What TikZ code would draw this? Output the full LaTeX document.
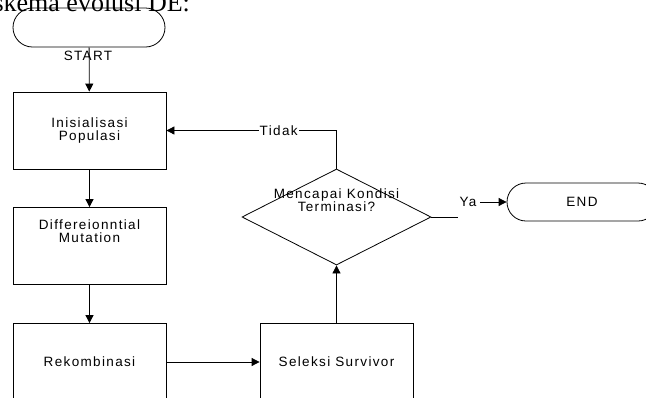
\documentclass[tikz,border=0pt]{standalone}
\usepackage{fontspec}
\setmainfont{Liberation Serif}
\newfontfamily\visiofont[LetterSpace=10]{Liberation Sans}
\usetikzlibrary{arrows.meta,%
                shapes.geometric,%
                shapes.misc}

\begin{document}
\begin{tikzpicture}[x=1pt,y=-1pt,font=\visiofont\fontsize{13.5}{13}\selectfont]
  \useasboundingbox (0,0) rectangle (646,397);
  \tikzstyle{BoxStyle}=[draw,line width=0.8pt,inner sep=0pt,minimum width=153pt,minimum height=77pt,align=center]
  \tikzstyle{TermStyle}=[draw,line width=0.8pt,rounded rectangle,inner sep=0pt,minimum width=152pt,minimum height=39pt]
  \tikzstyle{LabelStyle}=[fill=white,inner sep=1pt]
  \tikzstyle{EdgeStyle}=[line width=0.8pt,-{Triangle[length=8pt,width=8pt]}]
  \node[anchor=base west,font=\rmfamily\fontsize{26}{26}\selectfont] (judul) at (-10,11) {skema evolusi DE:};
  \node[TermStyle] (start) at (89,27.5) {};
  \node (startlbl) at (88,56) {START};
  \node[BoxStyle] (init) at (89.5,130.5) {Inisialisasi\\Populasi};
  \node[BoxStyle,label={[anchor=north,align=center,yshift=-9pt]north:Differeionntial\\Mutation}] (mutasi) at (89.5,246) {};
  \node[BoxStyle] (rekomb) at (89.5,362) {Rekombinasi};
  \node[BoxStyle] (seleksi) at (336.5,362) {Seleksi Survivor};
  \node[draw,line width=0.8pt,diamond,inner sep=0pt,minimum width=189pt,minimum height=96pt,
        label={[align=center,yshift=17pt]center:Mencapai Kondisi\\Terminasi?}] (cek) at (336.5,217) {};
  \node[TermStyle,minimum width=150pt,minimum height=38pt] (end) at (582,202) {END};
  \coordinate (yaujung) at (458,217);
  \node (ya) at (468,202) {Ya};
  \draw[EdgeStyle] (start) -- (init);
  \draw[EdgeStyle] (init) -- (mutasi);
  \draw[EdgeStyle] (mutasi) -- (rekomb);
  \draw[EdgeStyle] (rekomb) -- (seleksi);
  \draw[EdgeStyle] (seleksi) -- (cek);
  \draw[EdgeStyle] (cek.north) |- node[LabelStyle,pos=0.67] {Tidak} (init.east);
  \draw[line width=0.8pt] (cek.east) -- (yaujung);
  \draw[EdgeStyle] (ya) -- (end);
\end{tikzpicture}
\end{document}
